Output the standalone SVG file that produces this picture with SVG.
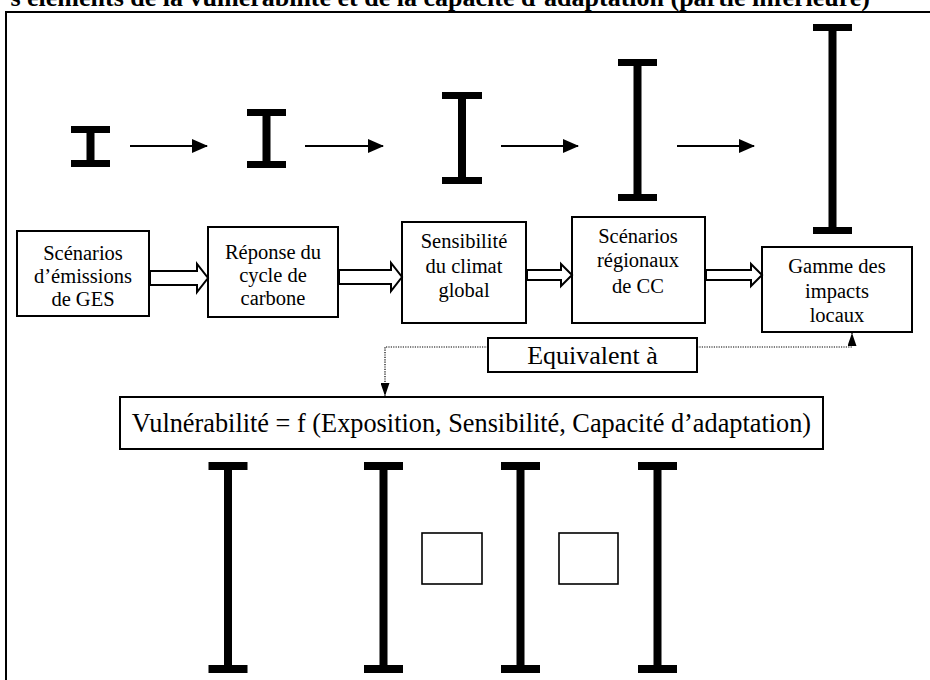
<svg xmlns="http://www.w3.org/2000/svg" width="930" height="680" viewBox="0 0 930 680">
<defs>
<style>
.t{font-family:"Liberation Serif","Times New Roman",serif;font-size:20.5px;fill:#000;text-anchor:middle}
.box{fill:#fff;stroke:#000;stroke-width:2}
.sbox{fill:#fff;stroke:#000;stroke-width:1.6}
.ib{fill:#000}
.thin{stroke:#000;stroke-width:2;fill:none}
.blk{fill:#fff;stroke:#000;stroke-width:2;stroke-linejoin:miter}
.dot{stroke:#000;stroke-width:1.2;fill:none;stroke-dasharray:1.2,1.2}
</style>
<marker id="ah" viewBox="0 0 16 14" refX="15" refY="7" markerWidth="16" markerHeight="14" markerUnits="userSpaceOnUse" orient="auto"><path d="M0,0 L16,7 L0,14 z" fill="#000"/></marker>
<marker id="ahd" viewBox="0 0 13 9" refX="13" refY="4.5" markerWidth="13" markerHeight="9" orient="auto" markerUnits="userSpaceOnUse"><path d="M0,0 L13,4.5 L0,9 z" fill="#000"/></marker>
</defs>
<rect width="930" height="680" fill="#fff"/>
<text x="870" y="6" font-family="'Liberation Serif','Times New Roman',serif" font-size="26" font-weight="bold" text-anchor="end">s éléments de la vulnérabilité et de la capacité d’adaptation (partie inférieure)</text>
<path d="M6,680 V12 H930" fill="none" stroke="#000" stroke-width="2"/>

<g id="ibeams-top">
<g id="i1"><rect class="ib" x="71" y="126" width="39" height="7"/><rect class="ib" x="86.5" y="126" width="8" height="41"/><rect class="ib" x="71" y="160" width="39" height="7"/></g>
<g id="i2"><rect class="ib" x="247" y="109" width="39" height="7"/><rect class="ib" x="262.5" y="109" width="8" height="59"/><rect class="ib" x="247" y="161" width="39" height="7"/></g>
<g id="i3"><rect class="ib" x="442" y="92" width="40" height="7"/><rect class="ib" x="458" y="92" width="8" height="92"/><rect class="ib" x="442" y="177" width="40" height="7"/></g>
<g id="i4"><rect class="ib" x="618" y="59" width="39" height="7"/><rect class="ib" x="633.5" y="59" width="8" height="142"/><rect class="ib" x="618" y="194" width="39" height="7"/></g>
<g id="i5"><rect class="ib" x="813" y="24" width="39" height="7"/><rect class="ib" x="828.5" y="24" width="8" height="210"/><rect class="ib" x="813" y="227" width="39" height="7"/></g>
</g>

<g id="box1"><rect class="box" x="17" y="231" width="132" height="85"/><text class="t" x="83" y="260">Scénarios</text><text class="t" x="83" y="283">d’émissions</text><text class="t" x="83" y="306">de GES</text></g>
<g id="box2"><rect class="box" x="208" y="227" width="130" height="90"/><text class="t" x="273" y="259">Réponse du</text><text class="t" x="273" y="282">cycle de</text><text class="t" x="273" y="305">carbone</text></g>
<g id="box3"><rect class="box" x="402" y="222" width="124" height="101"/><text class="t" x="464" y="248">Sensibilité</text><text class="t" x="464" y="273">du climat</text><text class="t" x="464" y="297">global</text></g>
<g id="box4"><rect class="box" x="572" y="217" width="133" height="106"/><text class="t" x="638" y="243">Scénarios</text><text class="t" x="638" y="267">régionaux</text><text class="t" x="638" y="293">de CC</text></g>
<g id="box5"><rect class="box" x="762" y="247" width="150" height="85"/><text class="t" x="837" y="273">Gamme des</text><text class="t" x="837" y="298">impacts</text><text class="t" x="837" y="322">locaux</text></g>

<g id="equiv"><rect class="box" x="488" y="338" width="209" height="34"/><text class="t" x="592.5" y="364" style="font-size:26px">Equivalent à</text></g>
<g id="vuln"><rect class="box" x="120" y="397" width="703" height="52"/><text class="t" x="471.5" y="432" style="font-size:26.3px">Vulnérabilité = f (Exposition, Sensibilité, Capacité d’adaptation)</text></g>

<g id="ibeams-bottom">
<g id="b1"><rect class="ib" x="208.5" y="462" width="39" height="8"/><rect class="ib" x="224" y="462" width="8" height="211"/><rect class="ib" x="208.5" y="665" width="39" height="8"/></g>
<g id="b2"><rect class="ib" x="364" y="462" width="39" height="8"/><rect class="ib" x="379.5" y="462" width="8" height="211"/><rect class="ib" x="364" y="665" width="39" height="8"/></g>
<g id="b3"><rect class="ib" x="501" y="462" width="39" height="8"/><rect class="ib" x="516.5" y="462" width="8" height="211"/><rect class="ib" x="501" y="665" width="39" height="8"/></g>
<g id="b4"><rect class="ib" x="638" y="462" width="39" height="8"/><rect class="ib" x="653.5" y="462" width="8" height="211"/><rect class="ib" x="638" y="665" width="39" height="8"/></g>
</g>
<g id="sq1"><rect class="sbox" x="422" y="533" width="60" height="51"/></g>
<g id="sq2"><rect class="sbox" x="559" y="533" width="59" height="51"/></g>

<g id="connectors">
<line class="thin" x1="130" y1="146" x2="207" y2="146" marker-end="url(#ah)"/>
<line class="thin" x1="305" y1="146" x2="383" y2="146" marker-end="url(#ah)"/>
<line class="thin" x1="501" y1="146" x2="578" y2="146" marker-end="url(#ah)"/>
<line class="thin" x1="677" y1="146" x2="754" y2="146" marker-end="url(#ah)"/>
<path class="blk" d="M150,271 H197 V264 L208,278 L197,292 V285 H150 Z"/>
<path class="blk" d="M339,270 H391 V263 L402,277 L391,291 V284 H339 Z"/>
<path class="blk" d="M527,270 H561 V264 L572,275 L561,286 V280 H527 Z"/>
<path class="blk" d="M706,270 H751 V264 L762,275 L751,286 V280 H706 Z"/>
<path class="dot" d="M488,347 H385 V396" marker-end="url(#ahd)"/>
<path class="dot" d="M697,347 H852 V333" marker-end="url(#ahd)"/>
</g>
</svg>
